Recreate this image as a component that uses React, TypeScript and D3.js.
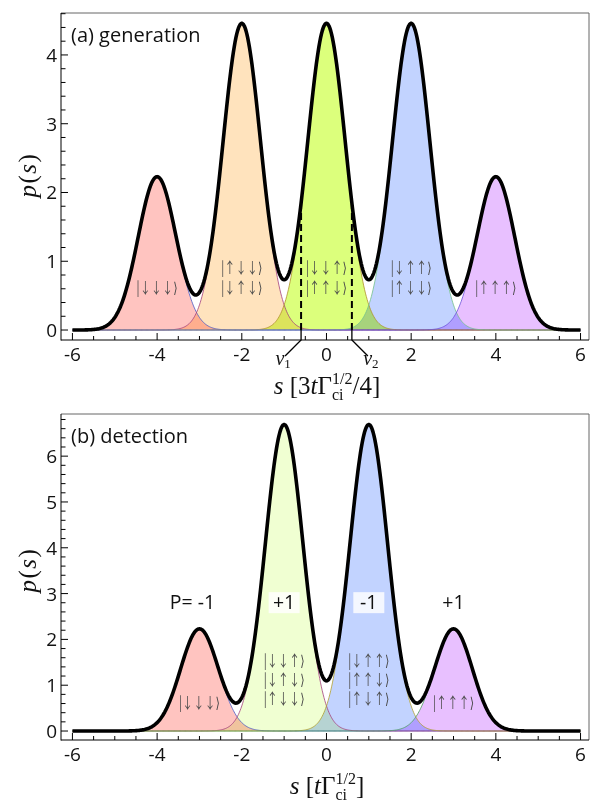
import React from "react";
import * as d3 from "d3";

const W = 592;
const H = 802;

// peak width shared by every state component
const SIGMA = 0.447;

// (a) generation
const genCenters = [-4, -2, 0, 2, 4];
const genHeights = [2.23, 4.46, 4.46, 4.46, 2.23];
const genFills = ["#ffc4c0", "#ffe3bd", "#dcff7c", "#c2d3ff", "#e8c0ff"];
const genEdges = ["#4b5bc4", "#a3407c", "#b0902c", "#72c08c", "#6a50d8"];
const genKets = [
  ["|↓↓↓⟩"],
  ["|↑↓↓⟩", "|↓↑↓⟩"],
  ["|↓↓↑⟩", "|↑↑↓⟩"],
  ["|↓↑↑⟩", "|↑↓↓⟩"],
  ["|↑↑↑⟩"],
];
const genYTicks = [0, 1, 2, 3, 4];
const nuValues = [-0.6, 0.6];
const nuNames = ["1", "2"];

// (b) detection
const detCenters = [-3, -1, 1, 3];
const detHeights = [2.23, 6.69, 6.69, 2.23];
const detFills = ["#ffc4c0", "#f0ffd2", "#c2d3ff", "#e8c0ff"];
const detEdges = ["#4b5bc4", "#a3407c", "#b0a030", "#4ca060"];
const detKets = [
  ["|↓↓↓⟩"],
  ["|↓↓↑⟩", "|↓↑↓⟩", "|↑↓↓⟩"],
  ["|↓↑↑⟩", "|↑↑↓⟩", "|↑↓↑⟩"],
  ["|↑↑↑⟩"],
];
const detParity = ["P= -1", "+1", "-1", "+1"];
const detYTicks = [0, 1, 2, 3, 4, 5, 6];

const xTicks = [-6, -4, -2, 0, 2, 4, 6];

const gauss = (s: number, c: number, h: number) =>
  h * Math.exp(-((s - c) * (s - c)) / (2 * SIGMA * SIGMA));

const grid = d3.range(-6, 6.0001, 0.02);

const SANS = "'Open Sans', 'DejaVu Sans', sans-serif";
const SERIF = "'Liberation Serif', 'DejaVu Serif', serif";
const KET = "'Noto Sans CJK JP', 'DejaVu Sans', sans-serif";

type PanelProps = {
  top: number;
  bottom: number;
  yDomain: [number, number];
  centers: number[];
  heights: number[];
  fills: string[];
  edges: string[];
  kets: string[][];
  yTicks: number[];
  title: string;
  labelY: number;
  children?: React.ReactNode;
  ketLift: (n: number) => number;
  ketStep: number;
};

const X0 = 61;
const X1 = 589;
const xScale = d3.scaleLinear().domain([-6.27, 6.2]).range([X0, X1]);

function Panel(p: PanelProps) {
  const y = d3.scaleLinear().domain(p.yDomain).range([p.bottom, p.top]);
  const total = (s: number) =>
    d3.sum(p.centers, (c, i) => gauss(s, c, p.heights[i]));

  const area = (i: number) =>
    d3
      .area<number>()
      .x((s) => xScale(s))
      .y0(y(0))
      .y1((s) => y(gauss(s, p.centers[i], p.heights[i])))(grid) || "";
  const edge = (i: number) =>
    d3
      .line<number>()
      .x((s) => xScale(s))
      .y((s) => y(gauss(s, p.centers[i], p.heights[i])))(grid) || "";
  const totalPath =
    d3
      .line<number>()
      .x((s) => xScale(s))
      .y((s) => y(total(s)))(grid) || "";

  const yMinor = d3
    .range(Math.ceil(p.yDomain[0] * 5), Math.floor(p.yDomain[1] * 5) + 1)
    .map((k) => k / 5)
    .filter((v) => Math.abs(v - Math.round(v)) > 1e-6);
  const xMinor = d3
    .range(-12, 13)
    .map((k) => k / 2)
    .filter((v) => Math.abs(v / 2 - Math.round(v / 2)) > 1e-6);

  return (
    <g>
      {p.centers.map((c, i) => (
        <path
          key={"f" + i}
          d={area(i)}
          fill={p.fills[i]}
          style={{ mixBlendMode: "multiply" }}
        />
      ))}
      {p.centers.map((c, i) => (
        <path
          key={"e" + i}
          d={edge(i)}
          fill="none"
          stroke={p.edges[i]}
          strokeWidth={0.8}
        />
      ))}
      {p.kets.map((lines, i) =>
        lines.map((t, j) => (
          <text
            key={"k" + i + j}
            x={xScale(p.centers[i])}
            y={y(0) - p.ketLift(lines.length) - (lines.length - 1 - j) * p.ketStep}
            textAnchor="middle"
            fontFamily={KET}
            fontSize={15}
            fill="#4a4a4a"
            textLength={41}
            lengthAdjust="spacingAndGlyphs"
          >
            {t}
          </text>
        ))
      )}
      {p.children}
      <path d={totalPath} fill="none" stroke="#000" strokeWidth={3.6} strokeLinejoin="round" />

      {/* frame */}
      <line x1={X0} x2={X1} y1={p.top} y2={p.top} stroke="#666" strokeWidth={1} />
      <line x1={X1} x2={X1} y1={p.top} y2={p.bottom} stroke="#666" strokeWidth={1} />
      <line x1={X0} x2={X0} y1={p.top} y2={p.bottom + 0.5} stroke="#000" strokeWidth={1} />
      <line x1={X0} x2={X1} y1={p.bottom} y2={p.bottom} stroke="#000" strokeWidth={1} />

      {/* y ticks */}
      {p.yTicks.map((v) => (
        <g key={"yt" + v}>
          <line x1={X0} x2={X0 + 7} y1={y(v)} y2={y(v)} stroke="#000" />
          <text x={57} y={y(v) + 7} textAnchor="end" fontFamily={SANS} fontSize={19} fill="#111">
            {v}
          </text>
        </g>
      ))}
      {yMinor.map((v) => (
        <line key={"ym" + v} x1={X0} x2={X0 + 4.5} y1={y(v)} y2={y(v)} stroke="#000" />
      ))}

      {/* x ticks */}
      {xTicks.map((v) => (
        <g key={"xt" + v}>
          <line x1={xScale(v)} x2={xScale(v)} y1={p.bottom} y2={p.bottom - 7} stroke="#000" />
          <text x={xScale(v)} y={p.bottom + 21} textAnchor="middle" fontFamily={SANS} fontSize={19} fill="#111">
            {v}
          </text>
        </g>
      ))}
      {xMinor.map((v) => (
        <line key={"xm" + v} x1={xScale(v)} x2={xScale(v)} y1={p.bottom} y2={p.bottom - 4} stroke="#000" />
      ))}

      <text x={71} y={p.top + 29} fontFamily={SANS} fontSize={20} fill="#111">
        {p.title}
      </text>

      <text
        transform={`translate(36,${p.labelY}) rotate(-90)`}
        textAnchor="middle"
        fontFamily={SERIF}
        fontSize={25}
        letterSpacing={1.5}
        fill="#111"
      >
        <tspan fontStyle="italic">p</tspan>(<tspan fontStyle="italic">s</tspan>)
      </text>
    </g>
  );
}

export default function App() {
  // top panel scale, reused for the ν markers
  const topY = d3.scaleLinear().domain([-0.145, 4.61]).range([340, 13]);
  const genTotal = (s: number) =>
    d3.sum(genCenters, (c, i) => gauss(s, c, genHeights[i]));
  const botY = d3.scaleLinear().domain([-0.196, 6.92]).range([740, 414]);

  return (
    <svg
      width={W}
      height={H}
      viewBox={`0 0 ${W} ${H}`}
      style={{ position: "absolute", left: 0, top: 0, display: "block", background: "#fff" }}
    >
      <rect width={W} height={H} fill="#fff" />
      <Panel
        top={13}
        bottom={340}
        yDomain={[-0.145, 4.61]}
        centers={genCenters}
        heights={genHeights}
        fills={genFills}
        edges={genEdges}
        kets={genKets}
        yTicks={genYTicks}
        title="(a) generation"
        labelY={175}
        ketLift={() => 37}
        ketStep={20}
      >
        {nuValues.map((v) => (
          <line
            key={"nu" + v}
            x1={xScale(v)}
            x2={xScale(v)}
            y1={topY(0)}
            y2={topY(genTotal(v))}
            stroke="#000"
            strokeWidth={2}
            strokeDasharray="7,4"
          />
        ))}
      </Panel>
      {nuValues.map((v, i) => {
        const x = xScale(v);
        const dir = v < 0 ? -1 : 1;
        return (
          <g key={"nul" + i}>
            <path
              d={`M${x},${topY(0)} L${x},340 L${x + dir * 16},356`}
              fill="none"
              stroke="#000"
              strokeWidth={1.3}
            />
            <text
              x={x + dir * (dir < 0 ? 18 : 19)}
              y={365}
              textAnchor="middle"
              fontFamily={SERIF}
              fontSize={20}
              fill="#111"
            >
              <tspan fontStyle="italic">ν</tspan>
              <tspan fontSize={13} dy={3}>{nuNames[i]}</tspan>
            </text>
          </g>
        );
      })}
      <text x={327} y={394} textAnchor="middle" fontFamily={SERIF} fontSize={25} fill="#111">
        <tspan fontStyle="italic">s</tspan>
        <tspan> [3</tspan>
        <tspan fontStyle="italic">t</tspan>
        <tspan>Γ</tspan>
        <tspan fontSize={16} dy={-10}>1/2</tspan>
        <tspan fontSize={16} dx={-20.4} dy={16}>ci</tspan>
        <tspan dx={8.9} dy={-6}>/4]</tspan>
      </text>

      <Panel
        top={414}
        bottom={740}
        yDomain={[-0.196, 6.92]}
        centers={detCenters}
        heights={detHeights}
        fills={detFills}
        edges={detEdges}
        kets={detKets}
        yTicks={detYTicks}
        title="(b) detection"
        labelY={570}
        ketLift={(n) => (n === 1 ? 23 : 27)}
        ketStep={19}
      >
        {detParity.map((t, i) => {
          const x = xScale(detCenters[i]);
          const yb = botY(2.66);
          return (
            <g key={"par" + i}>
              <rect x={x - 15.5} y={yb - 17} width={31} height={21} fill="#fff" opacity={0.82} />
              <text
                x={x - (t.length > 2 ? 7 : 0)}
                y={yb}
                textAnchor="middle"
                fontFamily={SANS}
                fontSize={19.5}
                fill="#111"
              >
                {t}
              </text>
            </g>
          );
        })}
      </Panel>
      <text x={327} y={794} textAnchor="middle" fontFamily={SERIF} fontSize={25} fill="#111">
        <tspan fontStyle="italic">s</tspan>
        <tspan> [</tspan>
        <tspan fontStyle="italic">t</tspan>
        <tspan>Γ</tspan>
        <tspan fontSize={16} dy={-10}>1/2</tspan>
        <tspan fontSize={16} dx={-20.4} dy={16}>ci</tspan>
        <tspan dx={8.9} dy={-6}>]</tspan>
      </text>
    </svg>
  );
}
